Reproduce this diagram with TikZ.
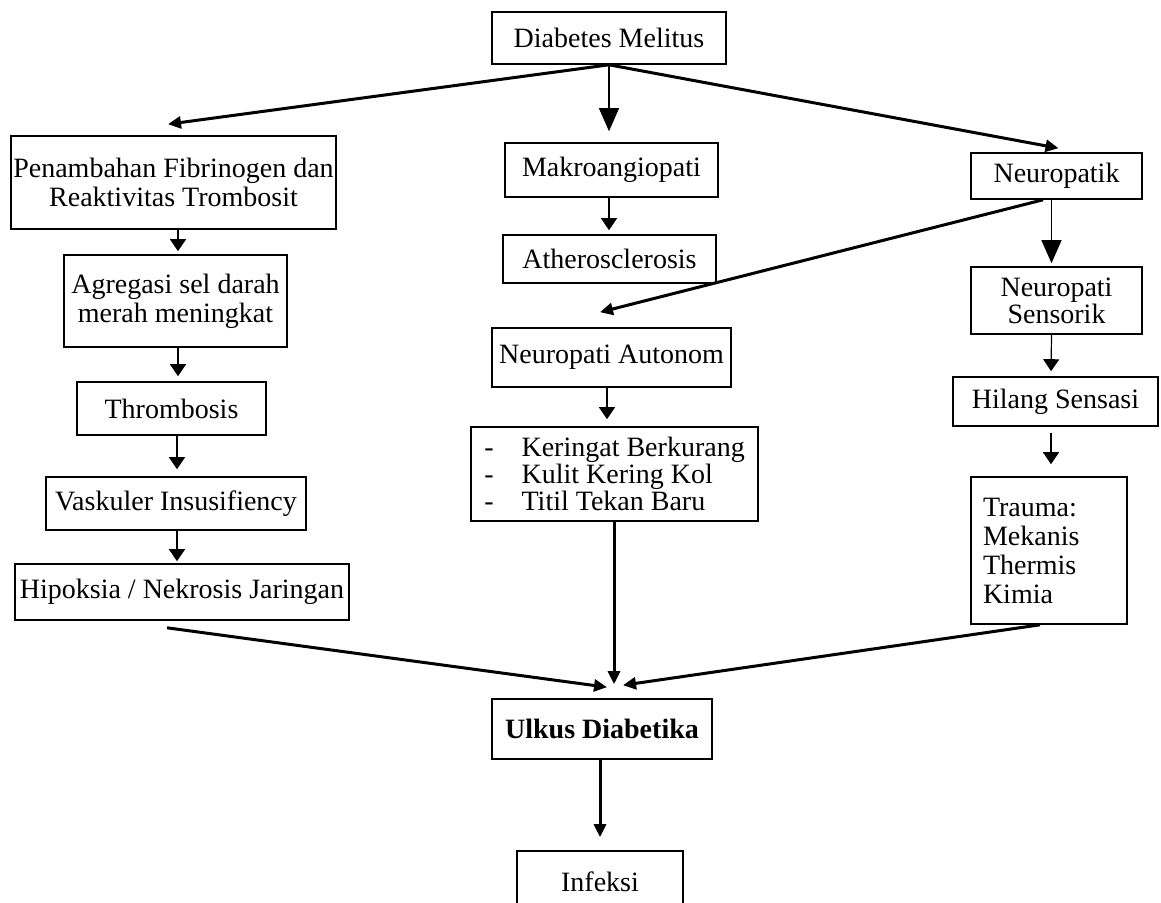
\documentclass[tikz,border=0pt]{standalone}
\usepackage{tikz}
\usepackage{fontspec}
\setmainfont{Liberation Serif}
\usetikzlibrary{arrows.meta}
\usetikzlibrary{calc}

\begin{document}
\begin{tikzpicture}[x = 1pt, y = -1pt,
            kotak/.style = {draw, black, line width = 1.6pt, inner sep = 0pt, align = center, font = {\fontsize{28pt}{29pt}\selectfont}},
            panah/.style = {black, line width = 1.2pt, -{Triangle[length = 12pt, width = 16pt]}},
            panahbesar/.style = {black, line width = 1.2pt, -{Triangle[length = 23pt, width = 20pt]}},
            panahtebal/.style = {black, line width = 3pt, -{Triangle[length = 13pt, width = 12pt]}}]
            \useasboundingbox (0,0) rectangle (1161,902);
            \node[kotak, minimum width = 234pt, minimum height = 52pt] (dm) at (609,38) {Diabetes Melitus};
            \node[kotak, minimum width = 325pt, minimum height = 93pt] (pen) at (173.5,182.5) {Penambahan Fibrinogen dan\\Reaktivitas Trombosit};
            \node[kotak, minimum width = 223pt, minimum height = 92pt] (agr) at (175.5,301) {Agregasi sel darah\\merah meningkat};
            \node[kotak, minimum width = 189pt, minimum height = 53pt] (thr) at (171.5,408.5) {Thrombosis};
            \node[kotak, minimum width = 260pt, minimum height = 53pt] (vas) at (176,503.5) {Vaskuler Insusifiency};
            \node[kotak, minimum width = 334pt, minimum height = 56pt] (hip) at (182,592) {Hipoksia / Nekrosis Jaringan};
            \node[kotak, minimum width = 213pt, minimum height = 54pt] (mak) at (611.5,170) {Makroangiopati};
            \node[kotak, minimum width = 213pt, minimum height = 48pt] (ath) at (609.5,259) {Atherosclerosis};
            \node[kotak, minimum width = 239pt, minimum height = 59pt] (aut) at (611.5,357.5) {Neuropati Autonom};
            \node[kotak, minimum width = 287pt, minimum height = 94pt, align = left, font = {\fontsize{28pt}{27pt}\selectfont}] (ker) at (614.5,474) {-\hspace{28pt}Keringat Berkurang\\-\hspace{28pt}Kulit Kering Kol\\-\hspace{28pt}Titil Tekan Baru};
            \node[kotak, minimum width = 171pt, minimum height = 46pt] (neu) at (1056.5,176) {Neuropatik};
            \node[kotak, minimum width = 171pt, minimum height = 67pt, font = {\fontsize{28pt}{27pt}\selectfont}] (sen) at (1056.5,300.5) {Neuropati\\Sensorik};
            \node[kotak, minimum width = 205pt, minimum height = 49pt] (hil) at (1055.5,401.5) {Hilang Sensasi};
            \node[kotak, minimum width = 156pt, minimum height = 147pt, text width = 132pt, align = left] (tra) at (1049,550.5) {Trauma:\\Mekanis\\Thermis\\Kimia};
            \node[kotak, minimum width = 220pt, minimum height = 60pt, font = {\fontsize{28pt}{29pt}\selectfont\bfseries}] (ulk) at (602,729) {Ulkus Diabetika};
            \node[kotak, minimum width = 166pt, minimum height = 62pt] (inf) at (600,882) {Infeksi};
            \draw[panahtebal] (dm.south) -- ($(pen.north) + (-5.5,-11)$);
            \draw[panahbesar, shorten > = 11pt] (dm.south) -- (dm.south |- mak.north);
            \draw[panahtebal] (dm.south) -- ($(neu.north) + (2,-4)$);
            \draw[panah, shorten > = 4pt] ($(mak.south) + (-2.5,0)$) -- ($(ath.north) + (-0.5,0)$);
            \draw[panahtebal] ($(neu.south) + (-13.5,0)$) -- ($(aut.north) + (-11.5,-15)$);
            \draw[panahbesar, shorten > = 3pt] ($(neu.south) + (-5,0)$) -- ($(sen.north) + (-5,0)$);
            \draw[panah, shorten > = 5pt] ($(sen.south) + (-5,0)$) -- ($(hil.north) + (-4.5,0)$);
            \draw[panah, shorten > = 12pt] ($(hil.south) + (-4.5,6)$) -- ($(tra.north) + (2,0)$);
            \draw[panah, shorten > = 7pt] ($(aut.south) + (-4.5,0)$) -- ($(ker.north) + (-7.5,0)$);
            \draw[panah, shorten > = 3pt] ($(pen.south) + (4.5,0)$) -- ($(agr.north) + (2.5,0)$);
            \draw[panah, shorten > = 5pt] ($(agr.south) + (2.5,0)$) -- ($(thr.north) + (6.5,0)$);
            \draw[panah, shorten > = 7pt] ($(thr.south) + (5.5,0)$) -- ($(vas.north) + (1,0)$);
            \draw[panah, shorten > = 2pt] ($(vas.south) + (1,0)$) -- ($(hip.north) + (-5,0)$);
            \draw[panahtebal] ($(hip.south) + (-15,7)$) -- ($(ulk.north) + (5,-11)$);
            \draw[panahtebal] ($(ker.south) + (-0.5,0)$) -- ($(ulk.north) + (12,-14)$);
            \draw[panahtebal] ($(tra.south) + (-9,0)$) -- ($(ulk.north) + (21,-13)$);
            \draw[panahtebal, shorten > = 13pt] ($(ulk.south) + (-2,0)$) -- (inf.north);
        \end{tikzpicture}
\end{document}
